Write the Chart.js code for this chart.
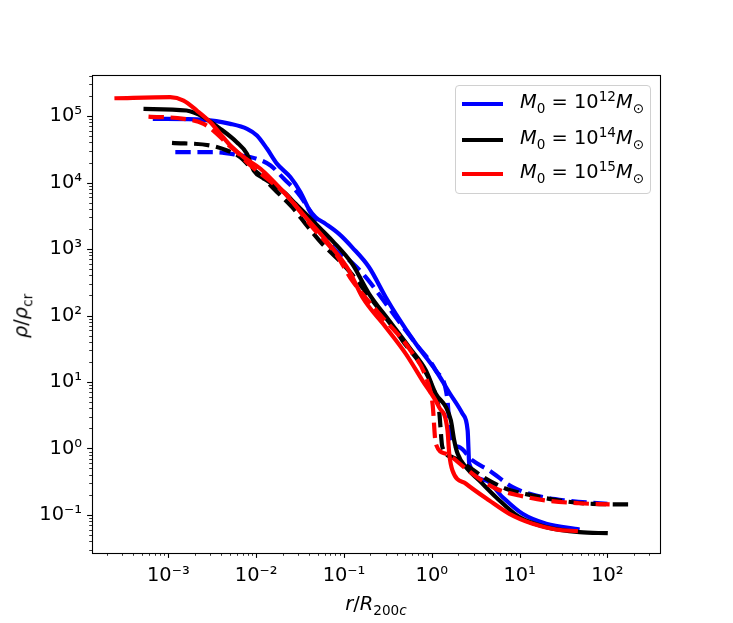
<!DOCTYPE html>
<html>
<head>
<meta charset="utf-8">
<script src="https://cdn.jsdelivr.net/npm/chart.js@4.4.0/dist/chart.umd.min.js"></script>
<style>
  body { margin: 0; background: #fff; }
  #wrap { position: relative; width: 733px; height: 623px; font-family: 'DejaVu Sans', sans-serif; color: #000; }
  #chart { position: absolute; left: 0; top: 0; }
  .lab { position: absolute; white-space: nowrap; font-size: 19.4px; line-height: 1; }
  .lab sub, .lab sup { font-size: 70%; line-height: 0; }
  #legend { position: absolute; left: 455px; top: 85px; width: 194px; height: 107px;
            border: 1px solid #d0d0d0; border-radius: 4px; background: rgba(255,255,255,0.8); }
  .row { position: absolute; left: 0; width: 100%; height: 0; }
  .swatch { position: absolute; left: 6px; top: -2px; width: 41px; height: 4px; }
  .rowtext { position: absolute; left: 64px; top: -12px; font-size: 19.4px; line-height: 1; white-space: nowrap; }
  .rowtext sub, .rowtext sup { font-size: 70%; line-height: 0; }
</style>
</head>
<body>
<div id="wrap">
  <canvas id="chart" width="733" height="623"></canvas>
  <div class="lab" id="xtitle"><i>r</i>/<i>R</i><sub>200<i>c</i></sub></div>
  <div class="lab" id="ytitle"><i>ρ</i>/<i>ρ</i><sub>cr</sub></div>
  <div id="legend"></div>
</div>
<script>
// axis ranges
const xMin = 1.35e-4, xMax = 397;
const yMin = 0.0268, yMax = 4.14e5;

const xMajorTicks = [1e-3, 1e-2, 1e-1, 1, 10, 100];
const xTickLabels = ['10⁻³', '10⁻²', '10⁻¹', '10⁰', '10¹', '10²'];
const yMajorTicks = [0.1, 1, 10, 100, 1e3, 1e4, 1e5];
const yTickLabels = ['10⁻¹', '10⁰', '10¹', '10²', '10³', '10⁴', '10⁵'];

// M0 = 1e12 (blue)
const rBlueSolid = [6.65e-4, 2.52e-3, 5.09e-3, 7.87e-3, 1.02e-2, 1.33e-2, 1.73e-2, 2.46e-2, 3.20e-2, 3.98e-2, 4.75e-2, 6.18e-2, 8.77e-2, 0.124, 0.193, 0.299, 0.389, 0.658, 1.11, 1.58, 2.24, 2.56, 2.67, 4.15, 6.41, 10.8, 20.1, 48.2];
const rhoBlueSolid = [9.08e4, 8.77e4, 7.63e4, 6.42e4, 5.09e4, 3.21e4, 1.91e4, 1.20e4, 7.15e3, 4.02e3, 3.01e3, 2.39e3, 1.69e3, 1.06e3, 532, 188, 106, 37.5, 14.9, 6.95, 3.32, 1.87, 0.589, 0.330, 0.185, 0.104, 0.0738, 0.0605];
const rBlueDashed = [1.20e-3, 3.28e-3, 6.05e-3, 1.02e-2, 1.46e-2, 2.07e-2, 2.93e-2, 3.65e-2, 5.18e-2, 8.04e-2, 0.123, 0.177, 0.389, 0.658, 1.11, 1.50, 1.65, 2.05, 2.91, 4.52, 8.34, 15.4, 33.9, 100];
const rhoBlueDashed = [2.86e4, 2.86e4, 2.61e4, 2.27e4, 1.80e4, 1.14e4, 7.15e3, 4.78e3, 2.13e3, 949, 627, 377, 94.2, 37.5, 14.9, 5.65, 1.32, 1.05, 0.660, 0.467, 0.262, 0.196, 0.165, 0.147];

// M0 = 1e14 (black)
const rBlackSolid = [5.21e-4, 1.61e-3, 2.52e-3, 3.91e-3, 6.01e-3, 7.81e-3, 9.39e-3, 1.22e-2, 1.52e-2, 2.07e-2, 2.81e-2, 4.75e-2, 7.35e-2, 0.124, 0.193, 0.326, 0.552, 0.857, 1.11, 1.45, 1.65, 1.80, 1.97, 2.45, 3.48, 5.39, 9.95, 20.1, 48.2, 101];
const rhoBlackSolid = [1.28e5, 1.21e5, 9.59e4, 6.42e4, 4.04e4, 2.73e4, 1.51e4, 1.15e4, 9.55e3, 7.15e3, 4.78e3, 2.39e3, 1.34e3, 599, 212, 84.1, 33.4, 14.9, 6.65, 4.18, 2.64, 1.32, 0.832, 0.523, 0.330, 0.185, 0.0927, 0.0656, 0.0551, 0.0532];
const rBlackDashed = [1.10e-3, 3.01e-3, 4.66e-3, 6.62e-3, 8.61e-3, 1.07e-2, 1.66e-2, 2.57e-2, 3.65e-2, 5.65e-2, 0.105, 0.210, 0.463, 1.02, 1.21, 1.32, 1.72, 2.67, 4.15, 7.01, 14.1, 28.5, 68.3, 194];
const rhoBlackDashed = [3.95e4, 3.60e4, 3.03e4, 2.40e4, 1.70e4, 1.35e4, 7.58e3, 4.25e3, 2.39e3, 1.20e3, 532, 168, 42.1, 8.36, 3.73, 1.05, 0.740, 0.523, 0.350, 0.248, 0.196, 0.165, 0.147, 0.144];

// M0 = 1e15 (red)
const rRedSolid = [2.43e-4, 1.05e-3, 1.49e-3, 2.11e-3, 3.01e-3, 3.91e-3, 5.09e-3, 7.22e-3, 1.12e-2, 1.98e-2, 3.65e-2, 6.74e-2, 0.114, 0.162, 0.299, 0.506, 0.783, 1.21, 1.51, 1.58, 1.72, 2.45, 4.52, 7.65, 14.1, 26.1, 46.1];
const rhoRedSolid = [1.85e5, 1.92e5, 1.71e5, 1.21e5, 8.07e4, 5.40e4, 3.60e4, 2.40e4, 1.61e4, 7.58e3, 3.01e3, 1.20e3, 475, 188, 66.7, 26.5, 10.5, 4.18, 1.87, 0.832, 0.467, 0.295, 0.165, 0.104, 0.0738, 0.0605, 0.0571];
const rRedDashed = [5.94e-4, 1.49e-3, 2.52e-3, 3.58e-3, 4.66e-3, 6.05e-3, 8.61e-3, 1.33e-2, 2.16e-2, 4.35e-2, 8.04e-2, 0.124, 0.251, 0.552, 0.886, 1.02, 1.11, 1.45, 2.45, 3.48, 5.39, 9.95, 20.1, 48.2, 106];
const rhoRedDashed = [9.82e4, 9.08e4, 7.63e4, 5.40e4, 3.82e4, 2.86e4, 1.80e4, 1.14e4, 6.76e3, 2.13e3, 847, 336, 107, 31.9, 10.5, 4.70, 1.18, 0.832, 0.495, 0.350, 0.248, 0.196, 0.165, 0.150, 0.144];

const massExponents = ['12', '14', '15'];
const seriesColors = ['#0000ff', '#000000', '#ff0000'];

const FONT = "'DejaVu Sans', sans-serif";
const DASH = [15.4, 6.7];

function toXY(rs, rhos) {
    return rs.map((r, i) => ({ x: r, y: rhos[i] }));
}

function logTicks(min, max) {
    const out = [];
    for (let e = Math.floor(Math.log10(min)); e <= Math.ceil(Math.log10(max)); e++) {
        for (let k = 1; k < 10; k++) {
            const v = k * Math.pow(10, e);
            if (v >= min && v <= max) out.push({ value: v });
        }
    }
    return out;
}

function isMajor(v, majors) {
    return majors.some(m => Math.abs(v / m - 1) < 1e-6);
}

function line(label, rs, rhos, color, dashed, order) {
    return {
        label: label,
        data: toXY(rs, rhos),
        borderColor: color,
        backgroundColor: color,
        borderWidth: 4.2,
        borderDash: dashed ? DASH : [],
        pointRadius: 0,
        showLine: true,
        fill: false,
        cubicInterpolationMode: 'monotone',
        order: order
    };
}

const datasets = [
    line('blue', rBlueSolid, rhoBlueSolid, seriesColors[0], false, 5),
    line('blue dashed', rBlueDashed, rhoBlueDashed, seriesColors[0], true, 4),
    line('black', rBlackSolid, rhoBlackSolid, seriesColors[1], false, 3),
    line('black dashed', rBlackDashed, rhoBlackDashed, seriesColors[1], true, 2),
    line('red', rRedSolid, rhoRedSolid, seriesColors[2], false, 1),
    line('red dashed', rRedDashed, rhoRedDashed, seriesColors[2], true, 0)
];

// frame + matplotlib-like major/minor tick marks
const frameTicks = {
    id: 'frameTicks',
    afterDraw(chart) {
        const ctx = chart.ctx;
        const a = chart.chartArea;
        ctx.save();
        ctx.strokeStyle = '#000';
        const xs = chart.scales.x, ys = chart.scales.y;
        xs.ticks.forEach(t => {
            const major = isMajor(t.value, xMajorTicks);
            const px = Math.round(xs.getPixelForValue(t.value)) + 0.5;
            ctx.lineWidth = major ? 1.1 : 0.8;
            ctx.beginPath();
            ctx.moveTo(px, a.bottom);
            ctx.lineTo(px, a.bottom + (major ? 4.9 : 2.8));
            ctx.stroke();
        });
        ys.ticks.forEach(t => {
            const major = isMajor(t.value, yMajorTicks);
            const py = Math.round(ys.getPixelForValue(t.value)) + 0.5;
            ctx.lineWidth = major ? 1.1 : 0.8;
            ctx.beginPath();
            ctx.moveTo(a.left, py);
            ctx.lineTo(a.left - (major ? 4.9 : 2.8), py);
            ctx.stroke();
        });
        ctx.lineWidth = 1.1;
        ctx.strokeRect(a.left + 0.5, a.top + 0.5, a.right - a.left, a.bottom - a.top);
        ctx.restore();
    }
};

const options = {
    responsive: false,
    animation: false,
    devicePixelRatio: 1,
    layout: { padding: { left: 0, right: 73, top: 75, bottom: 0 } },
    plugins: { legend: { display: false }, tooltip: { enabled: false } },
    scales: {
        x: {
            type: 'logarithmic',
            min: xMin, max: xMax, bounds: 'data',
            afterBuildTicks: s => { s.ticks = logTicks(xMin, xMax); },
            afterFit: s => { s.height = 70; },
            grid: { drawOnChartArea: false, drawTicks: true, tickLength: 5, color: 'rgba(0,0,0,0)' },
            border: { display: false },
            ticks: {
                autoSkip: false, maxRotation: 0, minRotation: 0, padding: 6,
                color: '#000', font: { family: FONT, size: 19.4 },
                callback: v => {
                    const i = xMajorTicks.findIndex(m => Math.abs(v / m - 1) < 1e-6);
                    return i >= 0 ? xTickLabels[i] : '';
                }
            }
        },
        y: {
            type: 'logarithmic',
            min: yMin, max: yMax, bounds: 'data',
            afterBuildTicks: s => { s.ticks = logTicks(yMin, yMax); },
            afterFit: s => { s.width = 92; },
            grid: { drawOnChartArea: false, drawTicks: true, tickLength: 5, color: 'rgba(0,0,0,0)' },
            border: { display: false },
            ticks: {
                autoSkip: false, padding: 5,
                color: '#000', font: { family: FONT, size: 19.4 },
                callback: v => {
                    const i = yMajorTicks.findIndex(m => Math.abs(v / m - 1) < 1e-6);
                    return i >= 0 ? yTickLabels[i] : '';
                }
            }
        }
    }
};

new Chart(document.getElementById('chart'), {
    type: 'scatter',
    data: { datasets },
    options,
    plugins: [frameTicks]
});

// axis titles
const xt = document.getElementById('xtitle');
xt.style.left = '376px'; xt.style.top = '604px';
xt.style.transform = 'translate(-50%, -50%)';
const yt = document.getElementById('ytitle');
yt.style.left = '21px'; yt.style.top = '316px';
yt.style.transform = 'translate(-50%, -50%) rotate(-90deg)';

// legend
const legend = document.getElementById('legend');
const rowTops = [18.3, 53.7, 88];
massExponents.forEach((e, i) => {
    const row = document.createElement('div');
    row.className = 'row';
    row.style.top = rowTops[i] + 'px';
    row.innerHTML = '<div class="swatch" style="background:' + seriesColors[i] + '"></div>' +
        '<div class="rowtext"><i>M</i><sub>0</sub> = 10<sup>' + e + '</sup><i>M</i><sub>⊙</sub></div>';
    legend.appendChild(row);
});
</script>
</body>
</html>
